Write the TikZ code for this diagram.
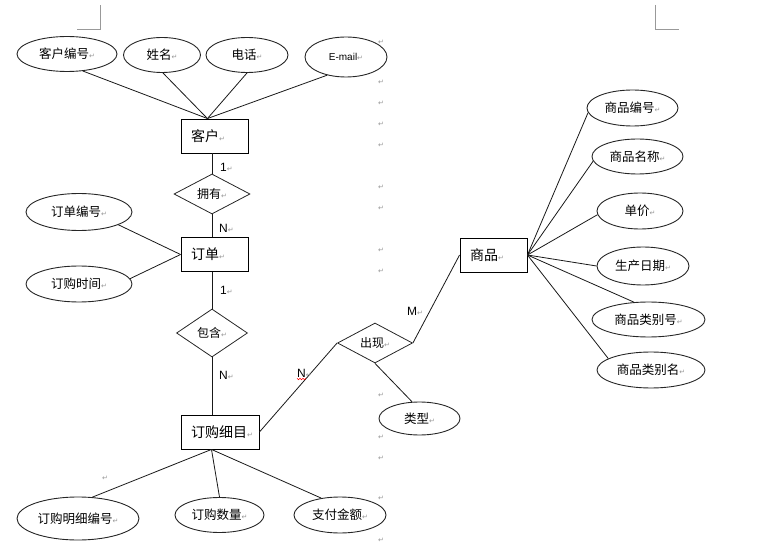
\documentclass[tikz,border=0pt]{standalone}
\usepackage{fontspec}
\setmainfont{Noto Sans CJK SC}
\newfontfamily\latinfont{Liberation Sans}
\newfontfamily\markfont{DejaVu Sans}
\usetikzlibrary{shapes,shapes.geometric}
\definecolor{markgray}{RGB}{150,150,150}
\newcommand{\retmark}{{\markfont\fontsize{7}{7}\selectfont\color{markgray}↵}}

\begin{document}
\begin{tikzpicture}[x=1pt,y=-1pt,
  attr/.style={ellipse, draw=black!85, line width=0.9pt, inner sep=0pt, font=\fontsize{12.5}{12.5}\selectfont},
  ent/.style={rectangle, draw=black, line width=0.9pt, inner xsep=10pt, inner ysep=0pt, align=left, minimum height=34pt, font=\fontsize{14}{14}\selectfont},
  rel/.style={diamond, draw=black!85, line width=0.8pt, inner sep=0pt, aspect=2, font=\fontsize{12}{12}\selectfont},
  card/.style={inner sep=0pt, anchor=west, font=\latinfont\fontsize{12}{12}\selectfont},
  link/.style={draw=black!90, line width=0.8pt},
  pmark/.style={inner sep=0pt},
  corner/.style={draw=black!40, line width=0.8pt},
  spell/.style={draw=red, line width=0.5pt}]

 \useasboundingbox (0,0) rectangle (761,548);

 % page corners
 \draw[corner] (77,29) -- (100,29) -- (100,5);
 \draw[corner] (655,5) -- (655,29) -- (679,29);

 % paragraph marks
 \foreach \y in {42,82,103,124,145,187,208,250,271,395,437,458,498,540}
   \node[pmark] at (381,\y) {\retmark};
 \node[pmark] at (105,478) {\retmark};

 % entities
 \node[ent, text width=47pt] (kehu) at (214.5,136) {客户\retmark};
 \node[ent, text width=47pt] (dingdan) at (214.5,254.5) {订单\retmark};
 \node[ent, text width=58pt] (dgxm) at (220,432) {订购细目\retmark};
 \node[ent, text width=47pt] (shangpin) at (493.5,255) {商品\retmark};

 % relationships
 \node[rel, minimum width=76pt, minimum height=40pt] (yongyou) at (212,194) {拥有\retmark};
 \node[rel, minimum width=71pt, minimum height=48pt] (baohan) at (212,333) {包含\retmark};
 \node[rel, minimum width=75pt, minimum height=40pt] (chuxian) at (375,343) {出现\retmark};

 % attributes of kehu
 \node[attr, minimum width=100pt, minimum height=35pt] (khbh) at (67,54) {客户编号\retmark};
 \node[attr, minimum width=77pt, minimum height=35pt] (xm) at (162,55) {姓名\retmark};
 \node[attr, minimum width=82pt, minimum height=35pt] (dh) at (247,55) {电话\retmark};
 \node[attr, minimum width=82pt, minimum height=40pt] (email) at (346,57) {\latinfont\fontsize{10}{10}\selectfont E-mail\retmark};

 % attributes of dingdan
 \node[attr, minimum width=106pt, minimum height=37pt] (ddbh) at (79,212) {订单编号\retmark};
 \node[attr, minimum width=106pt, minimum height=36pt] (dgsj) at (79,284) {订购时间\retmark};

 % attributes of dgxm
 \node[attr, minimum width=122pt, minimum height=43pt] (mxbh) at (78,518.5) {订购明细编号\retmark};
 \node[attr, minimum width=89pt, minimum height=35pt] (dgsl) at (219.5,515) {订购数量\retmark};
 \node[attr, minimum width=92pt, minimum height=36pt] (zfje) at (340,515) {支付金额\retmark};

 % attribute of chuxian
 \node[attr, minimum width=81pt, minimum height=33pt] (leixing) at (419.5,418.5) {类型\retmark};

 % attributes of shangpin
 \node[attr, minimum width=91pt, minimum height=36pt] (spbh) at (632.5,108) {商品编号\retmark};
 \node[attr, minimum width=91pt, minimum height=35pt] (spmc) at (637.5,156.5) {商品名称\retmark};
 \node[attr, minimum width=86pt, minimum height=36pt] (dj) at (640,211) {单价\retmark};
 \node[attr, minimum width=92pt, minimum height=38pt] (scrq) at (643,266) {生产日期\retmark};
 \node[attr, minimum width=113pt, minimum height=35pt] (lbh) at (648.5,319.5) {商品类别号\retmark};
 \node[attr, minimum width=108pt, minimum height=36pt] (lbm) at (651,370) {商品类别名\retmark};

 % connectors
 \draw[link] (khbh.-47) -- (kehu.112);
 \draw[link] (xm.-87) -- (kehu.112);
 \draw[link] (dh.south) -- (kehu.112);
 \draw[link] (email.-136) -- (kehu.112);

 \draw[link] (kehu.south -| yongyou.north) -- (yongyou.north);
 \draw[link] (yongyou.south) -- (yongyou.south |- dingdan.north);

 \draw[link] (ddbh.-18) -- (dingdan.west);
 \draw[link] (dgsj.6) -- (dingdan.west);

 \draw[link] (dingdan.south -| baohan.north) -- (baohan.north);
 \draw[link] (baohan.south) -- (baohan.south |- dgxm.north);

 \draw[link] (dgxm.-116) -- (mxbh.56);
 \draw[link] (dgxm.-116) -- (dgsl.north);
 \draw[link] (dgxm.-116) -- (zfje.138);

 \draw[link] (dgxm.east) -- (chuxian.west);
 \draw[link] (chuxian.east) -- (shangpin.west);
 \draw[link] (chuxian.south) -- (leixing.114);

 \draw[link] (shangpin.east) -- (spbh.186);
 \draw[link] (shangpin.east) -- (spmc.186);
 \draw[link] (shangpin.east) -- (dj.185);
 \draw[link] (shangpin.east) -- (scrq.west);
 \draw[link] (shangpin.east) -- (lbh.130);
 \draw[link] (shangpin.east) -- (lbm.165);

 % cardinalities
 \node[card] (c1) at (220,167) {1\retmark};
 \node[card] (c2) at (219,228) {N\retmark};
 \node[card] (c3) at (220,290) {1\retmark};
 \node[card] (c4) at (219,375) {N\retmark};
 \node[card] (c5) at (297,373) {N\retmark};
 \node[card] (c6) at (407,311) {M\retmark};

 % spelling mark
 \draw[spell] ([yshift=-1pt]c5.south west) -- ++(1.5,1.5) -- ++(1.5,-1.5) -- ++(1.5,1.5)
   -- ++(1.5,-1.5) -- ++(1.5,1.5) -- ++(1.5,-1.5);

\end{tikzpicture}
\end{document}
